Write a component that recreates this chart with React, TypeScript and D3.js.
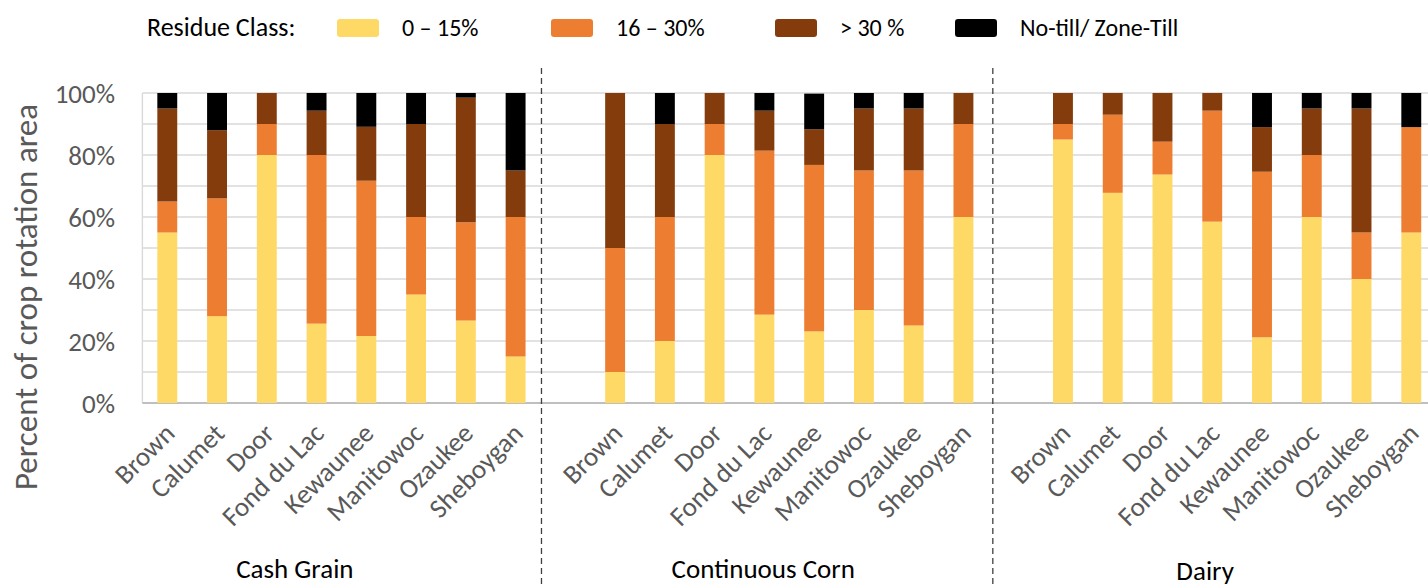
import React from 'react';
import * as d3 from 'd3';

// residue classes, bottom to top
const classes = ['0 – 15%', '16 – 30%', '> 30 %', 'No-till/ Zone-Till'];
const classColors = ['#FFD966', '#ED7D31', '#843C0C', '#000000'];

const counties = ['Brown', 'Calumet', 'Door', 'Fond du Lac', 'Kewaunee', 'Manitowoc', 'Ozaukee', 'Sheboygan'];
const groups = ['Cash Grain', 'Continuous Corn', 'Dairy'];

// percent of area per county, [0-15, 16-30, >30, no-till]
const cashGrain = [
  [55, 10, 30, 5],
  [28, 38, 22, 12],
  [80, 10, 10, 0],
  [25.6, 54.4, 14.3, 5.7],
  [21.6, 50.1, 17.4, 10.9],
  [35, 25, 30, 10],
  [26.6, 31.7, 40.2, 1.5],
  [15, 45, 15, 25],
];
const continuousCorn = [
  [10, 40, 50, 0],
  [20, 40, 30, 10],
  [80, 10, 10, 0],
  [28.5, 52.9, 12.9, 5.7],
  [23.1, 53.7, 11.5, 11.5],
  [30, 45, 20, 5],
  [25, 50, 20, 5],
  [60, 30, 10, 0],
];
const dairy = [
  [85, 5, 10, 0],
  [67.8, 25.2, 7, 0],
  [73.7, 10.6, 15.7, 0],
  [58.5, 35.8, 5.7, 0],
  [21.2, 53.4, 14.4, 11],
  [60, 20, 15, 5],
  [40, 15, 40, 5],
  [55, 34, 0, 11],
];
const groupValues = [cashGrain, continuousCorn, dairy];

const yTicks = [0, 20, 40, 60, 80, 100];
const yGrid = [10, 20, 30, 40, 50, 60, 70, 80, 90, 100];

const W = 1428;
const H = 588;
const FONT = "Carlito, Lato, 'Liberation Sans', sans-serif";

export default function App() {
  // one slot per bar plus an empty slot between groups
  const slots: string[] = [];
  groups.forEach((g, gi) => {
    if (gi > 0) slots.push(`gap${gi}`);
    counties.forEach((c) => slots.push(`${g}|${c}`));
  });

  const left = 142.4;
  const step = 49.76;
  const x = d3.scaleBand<string>()
    .domain(slots)
    .range([left, left + step * slots.length])
    .paddingInner(0.6)
    .paddingOuter(0.3);
  const y = d3.scaleLinear().domain([0, 100]).range([403, 93]);

  const stack = d3.stack<number[]>()
    .keys(classes.map((_, i) => String(i)))
    .value((d, k) => d[+k]);

  const dashOffsets = [1, 4.5];
  const labelOffsets = [-46.6, -26, -32];
  const labelBaselines = [578, 578, 580];
  const legendX = [337, 551, 775, 955];

  return (
    <svg width={W} height={H} style={{ position: 'absolute', left: 0, top: 0, background: '#fff' }} fontFamily={FONT}>
      {/* grid */}
      {yGrid.map((t) => (
        <line key={t} x1={left} x2={W} y1={y(t)} y2={y(t)} stroke="#d9d9d9" strokeWidth={1.4} />
      ))}
      <line x1={left} x2={left} y1={y(100)} y2={y(0)} stroke="#d9d9d9" strokeWidth={1.4} />
      <line x1={left} x2={W} y1={y(0)} y2={y(0)} stroke="#bfbfbf" strokeWidth={1.8} />

      {/* y ticks */}
      {yTicks.map((t) => (
        <text key={t} x={115} y={y(t)} dy="0.36em" textAnchor="end" fontSize={27} fill="#595959">{t}%</text>
      ))}
      <text transform={`translate(37,297) rotate(-90)`} textAnchor="middle" fontSize={33} fill="#595959">
        Percent of crop rotation area
      </text>

      {/* bars */}
      {groups.map((g, gi) => {
        const series = stack(groupValues[gi]);
        return series.map((s, si) => (
          <g key={`${g}-${si}`} fill={classColors[si]}>
            {s.map((d, ci) => (
              d[1] - d[0] > 0 ? (
                <rect key={ci} x={x(`${g}|${counties[ci]}`)} width={x.bandwidth()}
                  y={y(d[1])} height={y(d[0]) - y(d[1])} />
              ) : null
            ))}
          </g>
        ));
      })}

      {/* county labels */}
      {groups.map((g) => counties.map((c) => {
        const cx = x(`${g}|${c}`)! + x.bandwidth() / 2;
        return (
          <text key={`${g}-${c}`} transform={`translate(${cx + 9},435) rotate(-45)`} textAnchor="end"
            fontSize={27} fill="#595959">{c}</text>
        );
      }))}

      {/* group separators */}
      {[1, 2].map((gi, i) => {
        const sx = x(`gap${gi}`)! - x.step() * 0.3 + dashOffsets[i];
        return <line key={gi} x1={sx} x2={sx} y1={68} y2={H} stroke="#404040" strokeWidth={1.3} strokeDasharray="6,4" />;
      })}

      {/* group labels */}
      {groups.map((g, gi) => {
        const a = x(`${g}|${counties[0]}`)!;
        const b = x(`${g}|${counties[counties.length - 1]}`)! + x.bandwidth();
        return (
          <text key={g} x={(a + b) / 2 + labelOffsets[gi]} y={labelBaselines[gi]} textAnchor="middle"
            fontSize={27} fill="#000">{g}</text>
        );
      })}

      {/* legend */}
      <text x={147} y={36} fontSize={26} fill="#000">Residue Class:</text>
      {classes.map((c, i) => (
        <g key={c} transform={`translate(${legendX[i]},19)`}>
          <rect width={42} height={18} rx={3} fill={classColors[i]} />
          <text x={65} y={17} fontSize={24} fill="#000">{c}</text>
        </g>
      ))}
    </svg>
  );
}
